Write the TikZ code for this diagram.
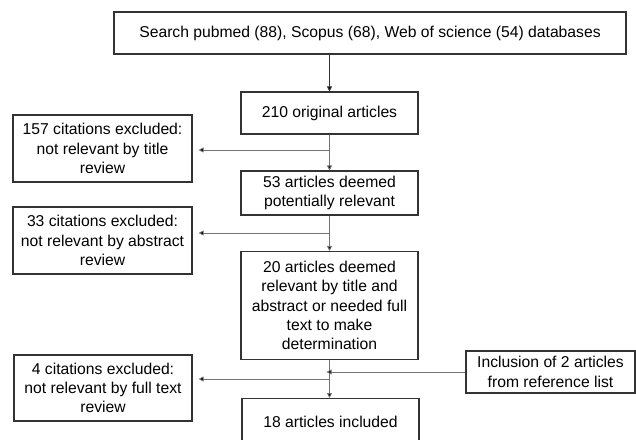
\documentclass[tikz,border=0pt]{standalone}
\usepackage{fontspec}
\setmainfont{Liberation Sans}
\usetikzlibrary{arrows.meta}
\begin{document}
\begin{tikzpicture}[x=1pt,y=-1pt,
  box/.style={draw=black!80,line width=1.1pt,fill=white,inner sep=0pt,align=center,
    font=\fontsize{15.7}{19.3}\selectfont},
  conn/.style={draw=black!55,line width=0.8pt},
  arr/.style={conn,-{Triangle[length=5pt,width=5pt,fill=black]},shorten >=6pt}]
\useasboundingbox (0,0) rectangle (636,439);
\clip (0,0) rectangle (636,439);
\node[box,minimum width=512pt,minimum height=42pt] (top) at (370,33)
  {Search pubmed (88), Scopus (68), Web of science (54) databases};
\node[box,minimum width=177pt,minimum height=42pt] (b210) at (329.5,113) {210 original articles};
\node[box,minimum width=179pt,minimum height=67pt] (b157) at (102.5,148.5)
  {157 citations excluded:\\not relevant by title\\review};
\node[box,minimum width=177pt,minimum height=44pt] (b53) at (329.5,193)
  {53 articles deemed\\potentially relevant};
\node[box,minimum width=179pt,minimum height=67pt] (b33) at (102.5,240.5)
  {33 citations excluded:\\not relevant by abstract\\review};
\node[box,minimum width=177pt,minimum height=108pt] (b20) at (329.5,305.5)
  {20 articles deemed\\relevant by title and\\abstract or needed full\\text to make\\determination};
\node[box,minimum width=178pt,minimum height=66pt] (b4) at (103,388)
  {4 citations excluded:\\not relevant by full text\\review};
\node[box,minimum width=169pt,minimum height=42pt] (incl) at (550.5,372)
  {Inclusion of 2 articles\\from reference list};
\node[box,minimum width=177pt,minimum height=46pt,anchor=north] (b18) at (330.5,398)
  {18 articles included};
\coordinate (j1) at (329.5,150);
\coordinate (j2) at (329.5,233);
\coordinate (j3) at (329.5,379);
\coordinate (j4) at (329.5,372);
\draw[conn,draw=black!80,-{Triangle[length=5pt,width=5pt,fill=black]}] (b210.north |- top.south) -- (b210.north);
\draw[conn,-{Triangle[length=5pt,width=5pt,fill=black]}] (b210.south) -- (b53.north);
\draw[arr] (j1) -- (j1 -| b157.east);
\draw[conn,-{Triangle[length=5pt,width=5pt,fill=black]}] (b53.south) -- (b20.north);
\draw[arr] (j2) -- (j2 -| b33.east);
\draw[conn,-{Triangle[length=5pt,width=5pt,fill=black]}] (b20.south) -- (b20.south |- b18.north);
\draw[arr] (j3) -- (j3 -| b4.east);
\draw[conn,-{Triangle[length=5pt,width=5pt,fill=black]},shorten >=-3pt] (incl.west) -- (j4);
\end{tikzpicture}
\end{document}
